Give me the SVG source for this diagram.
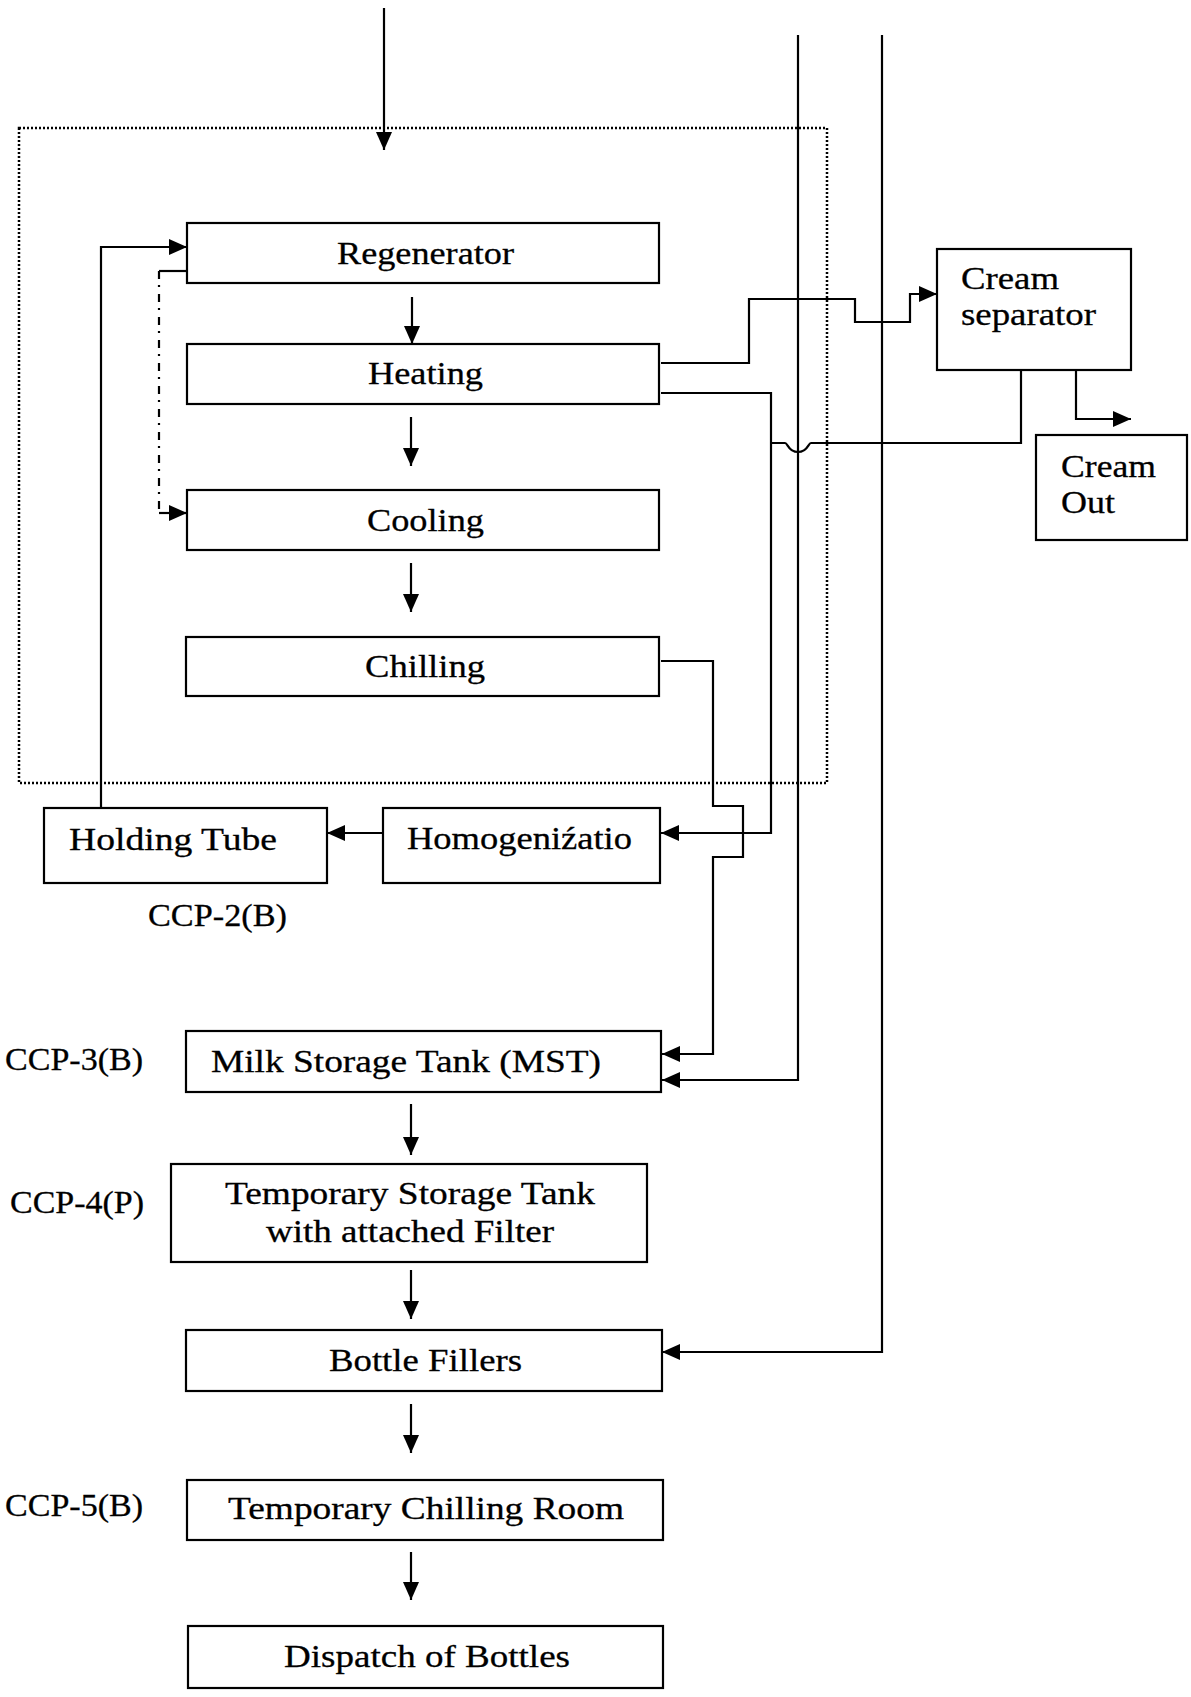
<svg xmlns="http://www.w3.org/2000/svg" width="1191" height="1697" viewBox="0 0 1191 1697">
  <style>
    .box { fill: #fff; stroke: #000; stroke-width: 2.2; }
    .lbl { font-family: "Liberation Serif", "Times New Roman", serif; font-size: 32px; fill: #000; stroke: #000; stroke-width: 0.3; }
    .ln { fill: none; stroke: #000; stroke-width: 2.2; }
    .arr { fill: none; stroke: #000; stroke-width: 2.2; marker-end: url(#head); }
    .dotted { fill: none; stroke: #000; stroke-width: 2.5; stroke-dasharray: 2 2; }
    .dashdot { fill: none; stroke: #000; stroke-width: 2.2; stroke-dasharray: 8 6 2 7; }
  </style>
  <defs>
    <marker id="head" markerUnits="userSpaceOnUse" markerWidth="19" markerHeight="17" refX="18" refY="8" orient="auto">
      <path d="M0,0 L18,8 L0,16 Z" fill="#000"/>
    </marker>
  </defs>
  <rect width="1191" height="1697" fill="#fff"/>

  <!-- pasteuriser section boundary -->
  <rect class="dotted" x="19" y="128" width="808" height="655"/>

  <!-- connectors -->
  <g id="connectors">
    <!-- raw milk in -->
    <path class="arr" d="M384,8 V150"/>
    <!-- long feed lines -->
    <path class="arr" d="M798,35 V1080 H662"/>
    <path class="arr" d="M882,35 V1352 H662"/>
    <!-- main flow -->
    <path class="arr" d="M412,297 V344"/>
    <path class="arr" d="M411,417 V466"/>
    <path class="arr" d="M411,563 V612"/>
    <path class="arr" d="M411,1104 V1155"/>
    <path class="arr" d="M411,1270 V1319"/>
    <path class="arr" d="M411,1404 V1453"/>
    <path class="arr" d="M411,1552 V1600"/>
    <!-- holding tube back to regenerator -->
    <path class="arr" d="M101,808 V247 H187"/>
    <!-- regenerator to cooling (dash-dot) -->
    <path class="ln" d="M187,271 H159"/>
    <path class="dashdot" d="M159,271 V513"/>
    <path class="arr" d="M159,513 H187"/>
    <!-- homogenizer to holding tube -->
    <path class="arr" d="M383,833 H327"/>
    <!-- heating to cream separator -->
    <path class="arr" d="M661,363 H749 V299 H855 V322 H910 V294 H937"/>
    <!-- heating to homogenizer -->
    <path class="arr" d="M661,393 H771 V833 H661"/>
    <!-- skim return from cream separator, hopping over feed line -->
    <path class="ln" d="M1021,370 V443 H811 C808,443 808,452 798,452 C788,452 788,443 785,443 H771"/>
    <!-- cream out -->
    <path class="arr" d="M1076,370 V419 H1131"/>
    <!-- chilling to milk storage tank -->
    <path class="arr" d="M661,661 H713 V806 H743 V857 H713 V1054 H662"/>
  </g>

  <g id="regenerator">
    <rect class="box" x="187" y="223" width="472" height="60"/>
    <text class="lbl" x="337" y="264" textLength="177" lengthAdjust="spacingAndGlyphs">Regenerator</text>
  </g>
  <g id="heating">
    <rect class="box" x="187" y="344" width="472" height="60"/>
    <text class="lbl" x="368" y="384" textLength="115" lengthAdjust="spacingAndGlyphs">Heating</text>
  </g>
  <g id="cooling">
    <rect class="box" x="187" y="490" width="472" height="60"/>
    <text class="lbl" x="367" y="531" textLength="117" lengthAdjust="spacingAndGlyphs">Cooling</text>
  </g>
  <g id="chilling">
    <rect class="box" x="186" y="637" width="473" height="59"/>
    <text class="lbl" x="365" y="677" textLength="120" lengthAdjust="spacingAndGlyphs">Chilling</text>
  </g>
  <g id="holding-tube">
    <rect class="box" x="44" y="808" width="283" height="75"/>
    <text class="lbl" x="69" y="850" textLength="208" lengthAdjust="spacingAndGlyphs">Holding Tube</text>
  </g>
  <g id="homogenizer">
    <rect class="box" x="383" y="808" width="277" height="75"/>
    <text class="lbl" x="407" y="849" textLength="225" lengthAdjust="spacingAndGlyphs">Homogeniźatio</text>
  </g>
  <g id="ccp2">
    <text class="lbl" x="148" y="926" textLength="139" lengthAdjust="spacingAndGlyphs">CCP-2(B)</text>
  </g>
  <g id="milk-storage-tank">
    <rect class="box" x="186" y="1031" width="475" height="61"/>
    <text class="lbl" x="211" y="1072" textLength="390" lengthAdjust="spacingAndGlyphs">Milk Storage Tank (MST)</text>
  </g>
  <g id="ccp3">
    <text class="lbl" x="5" y="1070" textLength="138" lengthAdjust="spacingAndGlyphs">CCP-3(B)</text>
  </g>
  <g id="temporary-storage-tank">
    <rect class="box" x="171" y="1164" width="476" height="98"/>
    <text class="lbl" x="225" y="1204" textLength="370" lengthAdjust="spacingAndGlyphs">Temporary Storage Tank</text>
    <text class="lbl" x="266" y="1242" textLength="288" lengthAdjust="spacingAndGlyphs">with attached Filter</text>
  </g>
  <g id="ccp4">
    <text class="lbl" x="10" y="1213" textLength="134" lengthAdjust="spacingAndGlyphs">CCP-4(P)</text>
  </g>
  <g id="bottle-fillers">
    <rect class="box" x="186" y="1330" width="476" height="61"/>
    <text class="lbl" x="329" y="1371" textLength="193" lengthAdjust="spacingAndGlyphs">Bottle Fillers</text>
  </g>
  <g id="temporary-chilling-room">
    <rect class="box" x="187" y="1480" width="476" height="60"/>
    <text class="lbl" x="228" y="1519" textLength="396" lengthAdjust="spacingAndGlyphs">Temporary Chilling Room</text>
  </g>
  <g id="ccp5">
    <text class="lbl" x="5" y="1516" textLength="138" lengthAdjust="spacingAndGlyphs">CCP-5(B)</text>
  </g>
  <g id="dispatch">
    <rect class="box" x="188" y="1626" width="475" height="62"/>
    <text class="lbl" x="284" y="1667" textLength="286" lengthAdjust="spacingAndGlyphs">Dispatch of Bottles</text>
  </g>
  <g id="cream-separator">
    <rect class="box" x="937" y="249" width="194" height="121"/>
    <text class="lbl" x="961" y="289" textLength="98" lengthAdjust="spacingAndGlyphs">Cream</text>
    <text class="lbl" x="961" y="325" textLength="135" lengthAdjust="spacingAndGlyphs">separator</text>
  </g>
  <g id="cream-out">
    <rect class="box" x="1036" y="435" width="151" height="105"/>
    <text class="lbl" x="1061" y="477" textLength="95" lengthAdjust="spacingAndGlyphs">Cream</text>
    <text class="lbl" x="1061" y="513" textLength="54" lengthAdjust="spacingAndGlyphs">Out</text>
  </g>
</svg>
